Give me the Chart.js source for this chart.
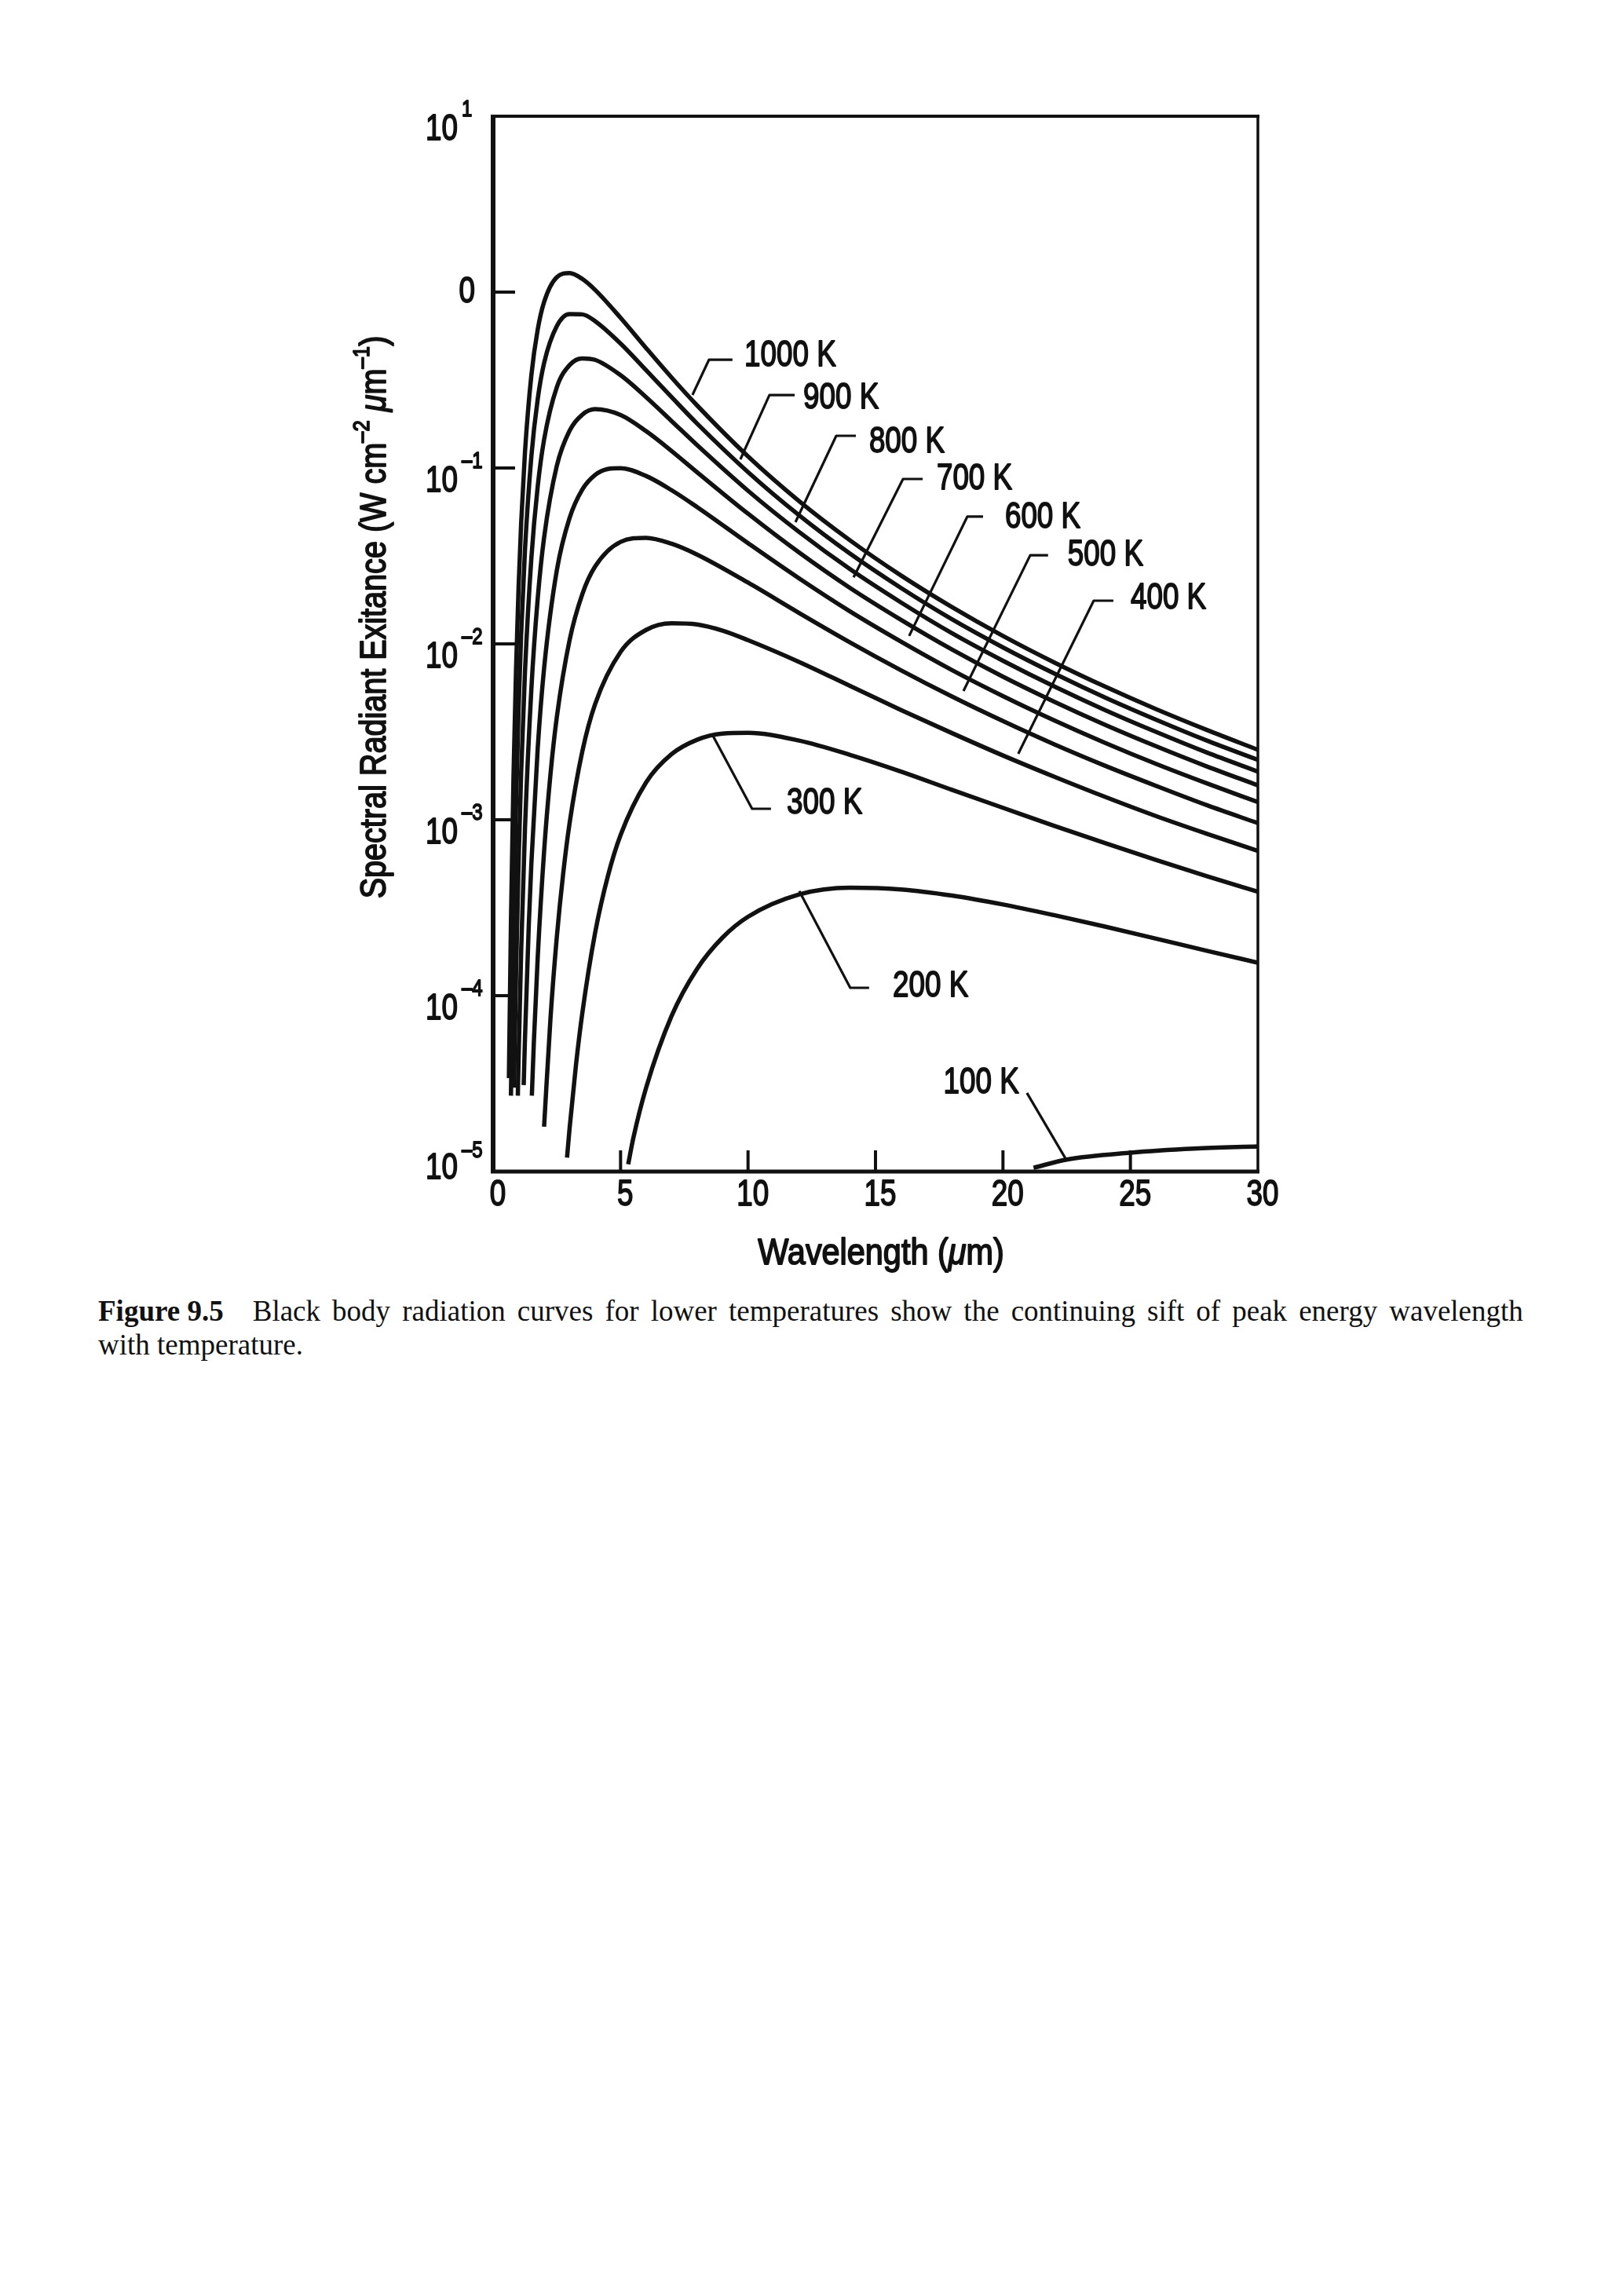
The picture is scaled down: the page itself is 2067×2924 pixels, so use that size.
<!DOCTYPE html>
<html><head><meta charset="utf-8">
<script src="https://cdn.jsdelivr.net/npm/chart.js@4.4.1/dist/chart.umd.min.js"></script>
<style>
html,body{margin:0;padding:0;background:#fff;}
body{width:2067px;height:2924px;position:relative;overflow:hidden;}
#wrap{position:absolute;left:0;top:0;width:2067px;height:1640px;}
#caption{position:absolute;left:125px;top:1648px;width:1815px;font-family:"Liberation Serif","Times New Roman",serif;font-size:37px;line-height:43px;color:#111;}
#caption .l1{display:flex;justify-content:space-between;white-space:nowrap;}
#caption b{margin-right:22px;}
</style></head>
<body>
<div id="wrap"><canvas id="c" width="2067" height="1640"></canvas></div>
<div id="caption">
<div class="l1" id="line1"></div>
<div class="l2">with temperature.</div>
</div>
<script>
// ---------------- data ----------------
const temps = ['1000 K','900 K','800 K','700 K','600 K','500 K','400 K','300 K','200 K','100 K'];
const xTicks = [0,5,10,15,20,25,30];
const yTickExp = [1,0,-1,-2,-3,-4,-5];
const yTickLabels = ['10^1','0','10^–1','10^–2','10^–3','10^–4','10^–5'];

const wl1000=[0.62,0.7,0.8,0.9,1.0,1.1,1.25,1.5,1.75,2.0,2.5,3.0,3.5,4,5,6,7,8,10,12,14,16,18,20,22,24,26,28,30];
const m1000=[3.4e-5,2.64e-4,1.77e-3,7.22e-3,0.0211,0.0485,0.123,0.336,0.613,0.879,1.217,1.283,1.188,1.03,0.714,0.481,0.327,0.227,0.1164,0.0649,0.0388,0.0245,0.0162,0.0111,0.00786,0.00572,0.00426,0.00324,0.0025];
const wl900=[0.7,0.8,0.9,1.0,1.1,1.25,1.5,1.75,2.0,2.5,3.0,3.5,4,5,6,7,8,10,12,14,16,18,20,22,24,26,28,30];
const m900=[2.7e-5,2.39e-4,1.22e-3,4.27e-3,0.0113,0.0342,0.116,0.246,0.395,0.641,0.750,0.747,0.684,0.510,0.360,0.253,0.179,0.0948,0.0539,0.0326,0.0208,0.0138,0.00955,0.0068,0.00496,0.00371,0.00282,0.00219];
const wl800=[0.82,0.9,1.0,1.1,1.25,1.5,1.75,2.0,2.5,3.0,3.5,4,5,6,7,8,10,12,14,16,18,20,22,24,26,28,30];
const m800=[3.0e-5,1.33e-4,5.79e-4,1.84e-3,6.92e-3,0.0306,0.0785,0.145,0.288,0.385,0.420,0.412,0.337,0.253,0.185,0.135,0.0742,0.0433,0.0266,0.0172,0.0115,0.00802,0.00574,0.00421,0.00316,0.00241,0.00188];
const wl700=[0.97,1.0,1.1,1.25,1.5,1.75,2.0,2.5,3.0,3.5,4,5,6,7,8,10,12,14,16,18,20,22,24,26,28,30];
const m700=[2.7e-5,4.43e-5,1.78e-4,8.86e-4,5.51e-3,0.0181,0.0402,0.103,0.163,0.201,0.216,0.200,0.162,0.125,0.0947,0.055,0.0331,0.0208,0.0137,0.00929,0.00651,0.0047,0.00347,0.00262,0.00201,0.00157];
const wl600=[1.2,1.25,1.4,1.5,1.75,2.0,2.5,3.0,3.5,4,4.5,5,6,7,8,10,12,14,16,18,20,22,24,26,28,30];
const m600=[3.1e-5,5.7e-5,2.53e-4,5.62e-4,2.55e-3,7.26e-3,0.0262,0.052,0.0755,0.0913,0.0988,0.0998,0.0901,0.0748,0.06,0.0374,0.0236,0.0153,0.0103,0.0071,0.00505,0.00368,0.00274,0.00208,0.00161,0.00126];
const wl500=[1.52,1.6,1.75,2.0,2.25,2.5,3.0,3.5,4,5,6,7,8,10,12,14,16,18,20,22,24,26,28,30];
const m500=[2.7e-5,5.5e-5,1.65e-4,6.6e-4,1.81e-3,3.84e-3,0.0105,0.0192,0.0275,0.038,0.0401,0.0371,0.0322,0.0223,0.015,0.0102,0.00708,0.00502,0.00364,0.00269,0.00203,0.00156,0.00121,0.000957];
const wl400=[2.0,2.25,2.5,2.75,3.0,3.5,4,5,6,7,8,9,10,12,14,16,18,20,22,24,26,28,30];
const m400=[1.8e-5,7.4e-5,2.16e-4,4.96e-4,9.56e-4,2.45e-3,4.54e-3,9.0e-3,0.012,0.0131,0.0129,0.0119,0.0105,0.0079,0.00577,0.00421,0.00311,0.00232,0.00176,0.00135,0.00105,0.000832,0.000665];
const wl300=[2.9,3.0,3.25,3.5,4,4.5,5,6,7,8,9,10,12,14,16,18,20,22,24,26,28,30];
const m300=[1.2e-5,1.76e-5,4.03e-5,7.97e-5,2.27e-4,4.77e-4,8.18e-4,1.63e-3,2.36e-3,2.85e-3,3.09e-3,3.12e-3,2.82e-3,2.34e-3,1.88e-3,1.48e-3,1.17e-3,9.25e-4,7.37e-4,5.91e-4,4.78e-4,3.9e-4];
const wl200=[5.3,5.5,6,7,8,9,10,12,14,16,18,20,22,24,26,28,30];
const m200=[1.1e-5,1.55e-5,2.99e-5,7.66e-5,1.42e-4,2.14e-4,2.81e-4,3.76e-4,4.11e-4,4.02e-4,3.71e-4,3.3e-4,2.87e-4,2.47e-4,2.11e-4,1.8e-4,1.54e-4];
const wl100=[21.2,22.5,25,27.5,30];
const m100=[1.05e-5,1.17e-5,1.28e-5,1.35e-5,1.39e-5];

// curve label callouts, in data units: anchor on curve -> elbow -> end of short bar; text position
const calloutAnchor = [[7.82,0.26],[9.70,0.112],[11.86,0.0492],[14.14,0.0239],[16.32,0.0111],[18.45,5.4e-3],[20.60,2.37e-3],[8.59,3.07e-3],[12.01,3.93e-4],[22.45,1.19e-5]];
const calloutElbow  = [[8.47,0.413],[10.84,0.26],[13.46,0.1524],[16.08,0.0866],[18.60,0.0529],[21.07,0.0319],[23.56,0.0176],[10.16,1.155e-3],[14.01,1.108e-4],[20.94,2.8e-5]];
const calloutBarEnd = [9.39,11.83,14.23,16.85,19.22,21.77,24.33,10.90,14.75,20.94];
const calloutText   = [[9.86,0.435],[12.17,0.25],[14.75,0.14],[17.40,0.0866],[20.08,0.0524],[22.54,0.0319],[25.01,0.01815],[11.52,1.24e-3],[15.68,1.13e-4],[20.63,3.2e-5]];

const captionLine1 = 'Black body radiation curves for lower temperatures show the continuing sift of peak energy wavelength';

// ---------------- build ----------------
const series = [[wl1000,m1000],[wl900,m900],[wl800,m800],[wl700,m700],[wl600,m600],[wl500,m500],[wl400,m400],[wl300,m300],[wl200,m200],[wl100,m100]];
const INK = '#111';
const datasets = series.map((s,k)=>({
  label: temps[k],
  data: s[0].map((w,i)=>({x:w,y:s[1][i]})),
  borderColor: INK, borderWidth: 5.5, pointRadius: 0, fill:false,
  cubicInterpolationMode: 'monotone'
}));

const FAM = '"Liberation Sans", Arial, Helvetica, sans-serif';
function drawRich(ctx, parts, x, y, align, sx){
  const ws = parts.map(p=>{ctx.font=(p.it?'italic ':'')+p.size+'px '+FAM; return ctx.measureText(p.t).width*sx;});
  const tot = ws.reduce((a,b)=>a+b,0);
  let cx = align==='center'? x-tot/2 : align==='right'? x-tot : x;
  parts.forEach((p,i)=>{
    ctx.font=(p.it?'italic ':'')+p.size+'px '+FAM;
    ctx.save(); ctx.translate(cx, y+(p.dy||0)); ctx.scale(sx,1);
    ctx.textAlign='left'; ctx.textBaseline='middle';
    ctx.lineWidth=1.8; ctx.lineJoin='round';
    ctx.fillText(p.t,0,0); ctx.strokeText(p.t,0,0); ctx.restore();
    cx+=ws[i];
  });
}

const frame = {
  id:'frame',
  afterDatasetsDraw(chart){
    const {ctx, chartArea:a, scales:{x,y}} = chart;
    ctx.save();
    ctx.strokeStyle=INK; ctx.fillStyle=INK; ctx.lineCap='butt';
    // border
    ctx.lineWidth=6; ctx.beginPath(); ctx.moveTo(a.left,a.top-2); ctx.lineTo(a.left,a.bottom+2); ctx.stroke();
    ctx.lineWidth=5; ctx.beginPath(); ctx.moveTo(a.left-3,a.bottom); ctx.lineTo(a.right+2,a.bottom); ctx.stroke();
    ctx.lineWidth=4; ctx.beginPath(); ctx.moveTo(a.left-3,a.top); ctx.lineTo(a.right+2,a.top); ctx.stroke();
    ctx.lineWidth=3.5; ctx.beginPath(); ctx.moveTo(a.right,a.top); ctx.lineTo(a.right,a.bottom); ctx.stroke();
    // y ticks (inward)
    ctx.lineWidth=4;
    yTickExp.forEach(e=>{const py=y.getPixelForValue(Math.pow(10,e)); ctx.beginPath(); ctx.moveTo(a.left,py); ctx.lineTo(a.left+28,py); ctx.stroke();});
    // x ticks (inward)
    xTicks.forEach(v=>{ if(v<=x.min||v>=x.max) return; const px=x.getPixelForValue(v); ctx.beginPath(); ctx.moveTo(px,a.bottom); ctx.lineTo(px,a.bottom-27); ctx.stroke();});
    // x tick labels
    xTicks.forEach(v=>{ const px=x.getPixelForValue(v); drawRich(ctx,[{t:String(v),size:46}],px+6,a.bottom+30,'center',0.8);});
    // y tick labels
    yTickLabels.forEach((lab,i)=>{
      const py=y.getPixelForValue(Math.pow(10,yTickExp[i]));
      if(lab.indexOf('^')<0){ drawRich(ctx,[{t:lab,size:46}],605,py,'right',0.8); return; }
      const [b,ex]=lab.split('^');
      const last = i===yTickLabels.length-1;
      drawRich(ctx,[{t:b,size:46}],583,py+(last?-4:17),'right',0.8);
      drawRich(ctx,[{t:ex,size:30}],588,py+(last?-26:-8),'left',0.8);
    });
    // axis titles
    drawRich(ctx,[{t:'Wavelength (',size:46},{t:'\u03BC',size:46,it:true},{t:'m)',size:46}],1122,1597,'center',0.9);
    ctx.save(); ctx.translate(478,786); ctx.rotate(-Math.PI/2);
    drawRich(ctx,[{t:'Spectral Radiant Exitance (W cm',size:46},{t:'–2',size:30,dy:-16},{t:' ',size:46},{t:'\u03BC',size:46,it:true},{t:'m',size:46},{t:'–1',size:30,dy:-16},{t:')',size:46}],0,0,'center',0.86);
    ctx.restore();
    // callouts
    temps.forEach((t,k)=>{
      const ax=x.getPixelForValue(calloutAnchor[k][0]), ay=y.getPixelForValue(calloutAnchor[k][1]);
      const ex=x.getPixelForValue(calloutElbow[k][0]), ey=y.getPixelForValue(calloutElbow[k][1]);
      const bx=x.getPixelForValue(calloutBarEnd[k]);
      ctx.lineWidth=3.2; ctx.lineJoin='round';
      ctx.beginPath(); ctx.moveTo(ax,ay); ctx.lineTo(ex,ey); ctx.lineTo(bx,ey); ctx.stroke();
      const tx=x.getPixelForValue(calloutText[k][0]), ty=y.getPixelForValue(calloutText[k][1]);
      drawRich(ctx,[{t:t,size:46}],tx,ty,k===9?'right':'left',0.8);
    });
    ctx.restore();
  }
};

new Chart(document.getElementById('c'),{
  type:'line',
  data:{datasets},
  options:{
    responsive:false, animation:false, devicePixelRatio:1,
    layout:{padding:{left:628,right:465,top:148,bottom:148}},
    plugins:{legend:{display:false},tooltip:{enabled:false}},
    scales:{
      x:{type:'linear',min:0,max:30,display:false},
      y:{type:'logarithmic',min:1e-5,max:10,display:false}
    }
  },
  plugins:[frame]
});

// caption
const l1=document.getElementById('line1');
const fb=document.createElement('b'); fb.textContent='Figure 9.5'; l1.appendChild(fb);
captionLine1.split(' ').forEach(w=>{const s=document.createElement('span'); s.textContent=w; l1.appendChild(s);});
</script>
</body></html>
